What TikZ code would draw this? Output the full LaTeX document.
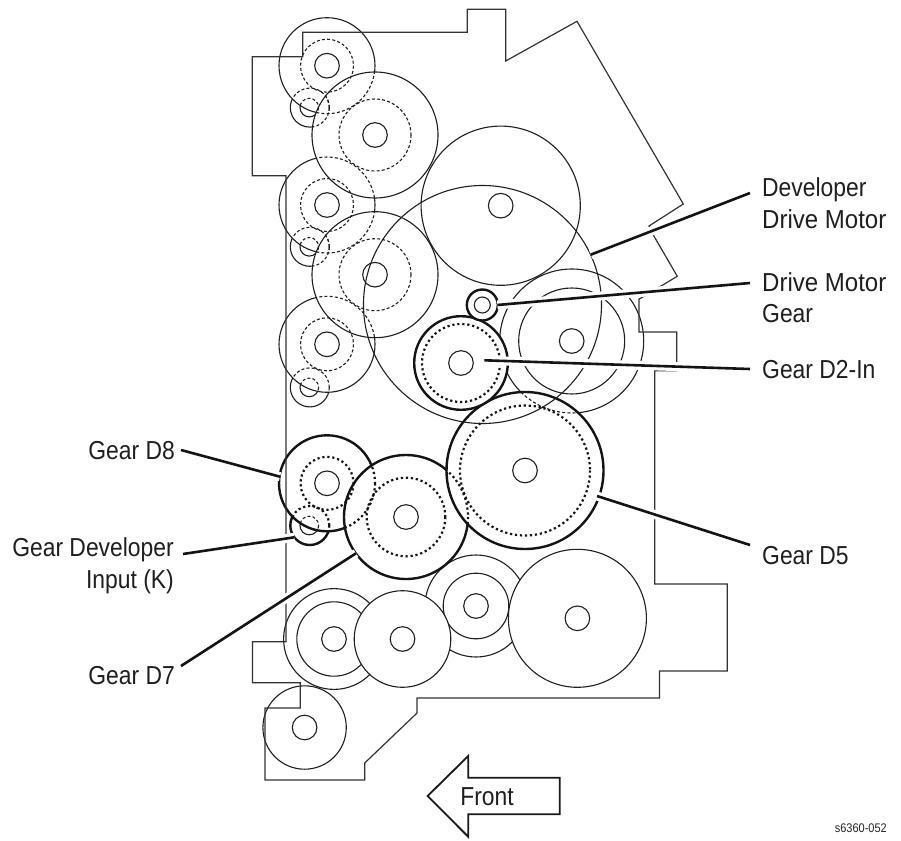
\documentclass[tikz,border=0pt]{standalone}
\usepackage{graphicx}
\usepackage{fontspec}
\setmainfont[FakeStretch=0.88]{Liberation Sans}
\newcommand{\labelfont}{\fontsize{26}{26}\selectfont}
\newcommand{\leaderline}[2]{\draw[leaderhalo] (#1) -- (#2); \draw[leaderink] (#1) -- (#2);}
\tikzset{
  thinline/.style={draw=black!88, line width=1.1pt},
  thickline/.style={draw=black!92, line width=2.4pt},
  hidden/.style={draw=black!88, line width=1.1pt, dash pattern=on 3pt off 2.2pt},
  hiddenthick/.style={draw=black!92, line width=2.2pt, dash pattern=on 2.2pt off 2.8pt},
  framepath/.style={draw=black!80, line width=1.2pt, line join=miter},
  leaderhalo/.style={draw=white, line width=9pt},
  leaderink/.style={draw=black!92, line width=2.6pt},
  calllabel/.style={font=\labelfont, inner sep=0pt, text=black!88},
}
\begin{document}
\begin{tikzpicture}[x=1pt,y=-1pt]
\useasboundingbox (0,0) rectangle (901,840);
\fill[white] (0,0) rectangle (901,840);
% centres
\coordinate (A1) at (327,65.7);  \coordinate (S1) at (309.8,107.6); \coordinate (B1) at (375,135);
\coordinate (A2) at (327,205);   \coordinate (S2) at (309.8,246.8); \coordinate (B2) at (375,274.7);
\coordinate (A3) at (327,344.3); \coordinate (S3) at (309.8,387.4);
\coordinate (D8) at (327,483.3); \coordinate (S4) at (309.8,525.5);
\coordinate (D7) at (406,517);   \coordinate (D5) at (525,470.5);
\coordinate (M4) at (500.7,205.7); \coordinate (MO) at (482.5,304.5);
\coordinate (RG) at (571.7,341); \coordinate (DG) at (482.3,305); \coordinate (D2) at (461,363);
\coordinate (G1) at (334,639);   \coordinate (G2) at (402.5,639);
\coordinate (G3) at (476,606);   \coordinate (G4) at (577.4,618.3); \coordinate (G5) at (304.6,727.5);
% upper-left stack, back to front
\foreach \s in {S1,S2,S3}{
  \draw[thinline] (\s) circle[radius=19.5];
  \draw[thinline] (\s) ++(-0.5,0) circle[radius=9.3];
}
\foreach \a in {A1,A2,A3}{
  \draw[thinline,fill=white] (\a) circle[radius=48];
}
\foreach \b in {B1,B2}{
  \draw[thinline,fill=white] (\b) circle[radius=63];
}
\foreach \a/\s in {A1/S1,A2/S2,A3/S3}{
  \begin{scope}
    \clip (\a) circle[radius=48];
    \draw[hidden] (\s) circle[radius=19.5];
    \draw[hidden] (\s) ++(-0.5,0) circle[radius=9.3];
  \end{scope}
}
\begin{scope}
  \clip (B1) circle[radius=63];
  \draw[hidden] (A1) circle[radius=48];
  \draw[hidden] (A2) circle[radius=48];
  \draw[hidden] (S1) circle[radius=19.5];
\end{scope}
\begin{scope}
  \clip (B2) circle[radius=63];
  \draw[hidden] (A2) circle[radius=48];
  \draw[hidden] (A3) circle[radius=48];
  \draw[hidden] (S2) circle[radius=19.5];
\end{scope}
\foreach \a in {A1,A2,A3}{
  \draw[hidden] (\a) circle[radius=26.5];
  \draw[thinline] (\a) circle[radius=12.3];
}
\foreach \b in {B1,B2}{
  \draw[hidden] (\b) circle[radius=36];
  \draw[thinline] (\b) circle[radius=12.3];
}
% upper-right gears
\draw[thinline] (M4) circle[radius=79.6];
\draw[thinline] (M4) circle[radius=12.3];
\draw[thinline] (RG) circle[radius=72];
\draw[thinline] (RG) circle[radius=53];
\draw[thinline] (RG) circle[radius=12.3];
% bottom row
\draw[thinline,fill=white] (G1) circle[radius=50.4];
\draw[thinline] (G1) circle[radius=37.2];
\draw[thinline] (G1) circle[radius=12.3];
\draw[thinline,fill=white] (G3) circle[radius=51];
\draw[thinline] (G3) circle[radius=32.8];
\draw[thinline] (G3) circle[radius=12.3];
\draw[thinline,fill=white] (G2) circle[radius=48.3];
\draw[thinline] (G2) circle[radius=12.3];
\draw[thinline,fill=white] (G4) circle[radius=69];
\draw[thinline] (G4) circle[radius=12.3];
\draw[thinline,fill=white] (G5) circle[radius=41.7];
\draw[thinline] (G5) circle[radius=12.3];
% highlighted train
\draw[thickline] (S4) circle[radius=19.5];
\draw[thinline] (S4) ++(-0.5,0) circle[radius=9.3];
\draw[thickline,fill=white] (D8) circle[radius=48];
\draw[thickline,fill=white] (D7) circle[radius=62];
\draw[thickline,fill=white] (D5) circle[radius=78.5];
\begin{scope}
  \clip (D8) circle[radius=48];
  \draw[hiddenthick] (S4) circle[radius=19.5];
  \draw[hidden] (S4) ++(-0.5,0) circle[radius=9.3];
\end{scope}
\begin{scope}
  \clip (D7) circle[radius=62];
  \draw[hiddenthick] (D8) circle[radius=48];
\end{scope}
\begin{scope}
  \clip (D5) circle[radius=78.5];
  \draw[hiddenthick] (D7) circle[radius=62];
  \draw[hidden] (RG) circle[radius=72];
\end{scope}
\draw[hiddenthick] (D8) circle[radius=26.5];
\draw[thinline] (D8) circle[radius=12.3];
\draw[hiddenthick] (D7) circle[radius=39.3];
\draw[thinline] (D7) circle[radius=12.3];
\draw[hiddenthick] (D5) circle[radius=65];
\draw[thinline] (D5) circle[radius=12.3];
\draw[thickline,fill=white] (D2) circle[radius=46.8];
\draw[hiddenthick] (D2) circle[radius=39];
\draw[thinline] (D2) circle[radius=12.3];
\draw[thickline,fill=white] (DG) circle[radius=15.5];
\draw[thinline] (DG) circle[radius=8];
% motor outline lies over the gears
\draw[thinline] (MO) circle[radius=119];
% frame
\draw[framepath] (252.3,56.7) -- (302.7,56.7) -- (302.7,32.3) -- (467.3,32.3) -- (467.3,9.3)
  -- (505.7,9.3) -- (505.7,61) -- (577,21.3) -- (683.3,204) -- (649,226)
  -- (653.3,235) -- (677.3,276.3) -- (641,298) -- (639,299) -- (639,332) -- (676.7,332)
  -- (676.7,370.7) -- (654.8,370.7) -- (654.8,584) -- (727.2,584) -- (727.2,671)
  -- (659.5,671) -- (659.5,698) -- (417,698) -- (417,713) -- (364.7,763) -- (364.7,780)
  -- (265,780) -- (265,708) -- (300.2,708) -- (300.2,682.7) -- (252.5,682.7)
  -- (252.5,641.7) -- (286,641.7) -- (286,175.7) -- (252.3,175.7) -- cycle;
% leaders
\coordinate (l1a) at (590.7,254.7); \coordinate (l1b) at (750,193);
\coordinate (l2a) at (497.3,305);   \coordinate (l2b) at (750,283);
\coordinate (l3a) at (484.3,360.3); \coordinate (l3b) at (750,369);
\coordinate (l4a) at (597,496);     \coordinate (l4b) at (750,545);
\coordinate (l5a) at (280,476.7);   \coordinate (l5b) at (181,450);
\coordinate (l6a) at (294.3,537.3); \coordinate (l6b) at (183,554);
\coordinate (l7a) at (356,553.3);   \coordinate (l7b) at (181,666);
\leaderline{l1a}{l1b}
\leaderline{l2a}{l2b}
\leaderline{l3a}{l3b}
\leaderline{l4a}{l4b}
\leaderline{l5a}{l5b}
\leaderline{l6a}{l6b}
\leaderline{l7a}{l7b}
% labels
\node[calllabel,anchor=base west] (t1) at (762,196) {Developer};
\node[calllabel,anchor=base west] (t2) at (762,228) {\scalebox{1.05}[1]{Drive Motor}};
\node[calllabel,anchor=base west] (t3) at (762,291) {\scalebox{1.05}[1]{Drive Motor}};
\node[calllabel,anchor=base west] (t4) at (762,322) {Gear};
\node[calllabel,anchor=base west] (t5) at (762,378) {Gear D2-In};
\node[calllabel,anchor=base west] (t6) at (762,564) {Gear D5};
\node[calllabel,anchor=base east] (t7) at (175,459) {Gear D8};
\node[calllabel,anchor=base east] (t8) at (174,556) {Gear Developer};
\node[calllabel,anchor=base east] (t9) at (174,588) {Input (K)};
\node[calllabel,anchor=base east] (t10) at (175,684) {Gear D7};
% front arrow
\draw[draw=black!90,line width=1.8pt,line join=miter] (427.6,796) -- (468.2,756) -- (468.2,777.7) -- (559.8,777.7)
  -- (559.8,814.3) -- (468.2,814.3) -- (468.2,836.7) -- cycle;
\node[calllabel,anchor=base] (front) at (487,805) {Front};
\node[font=\fontsize{12.5}{12.5}\selectfont,inner sep=0pt,anchor=base east,text=black!85] (code) at (887,832) {s6360-052};
\end{tikzpicture}
\end{document}
